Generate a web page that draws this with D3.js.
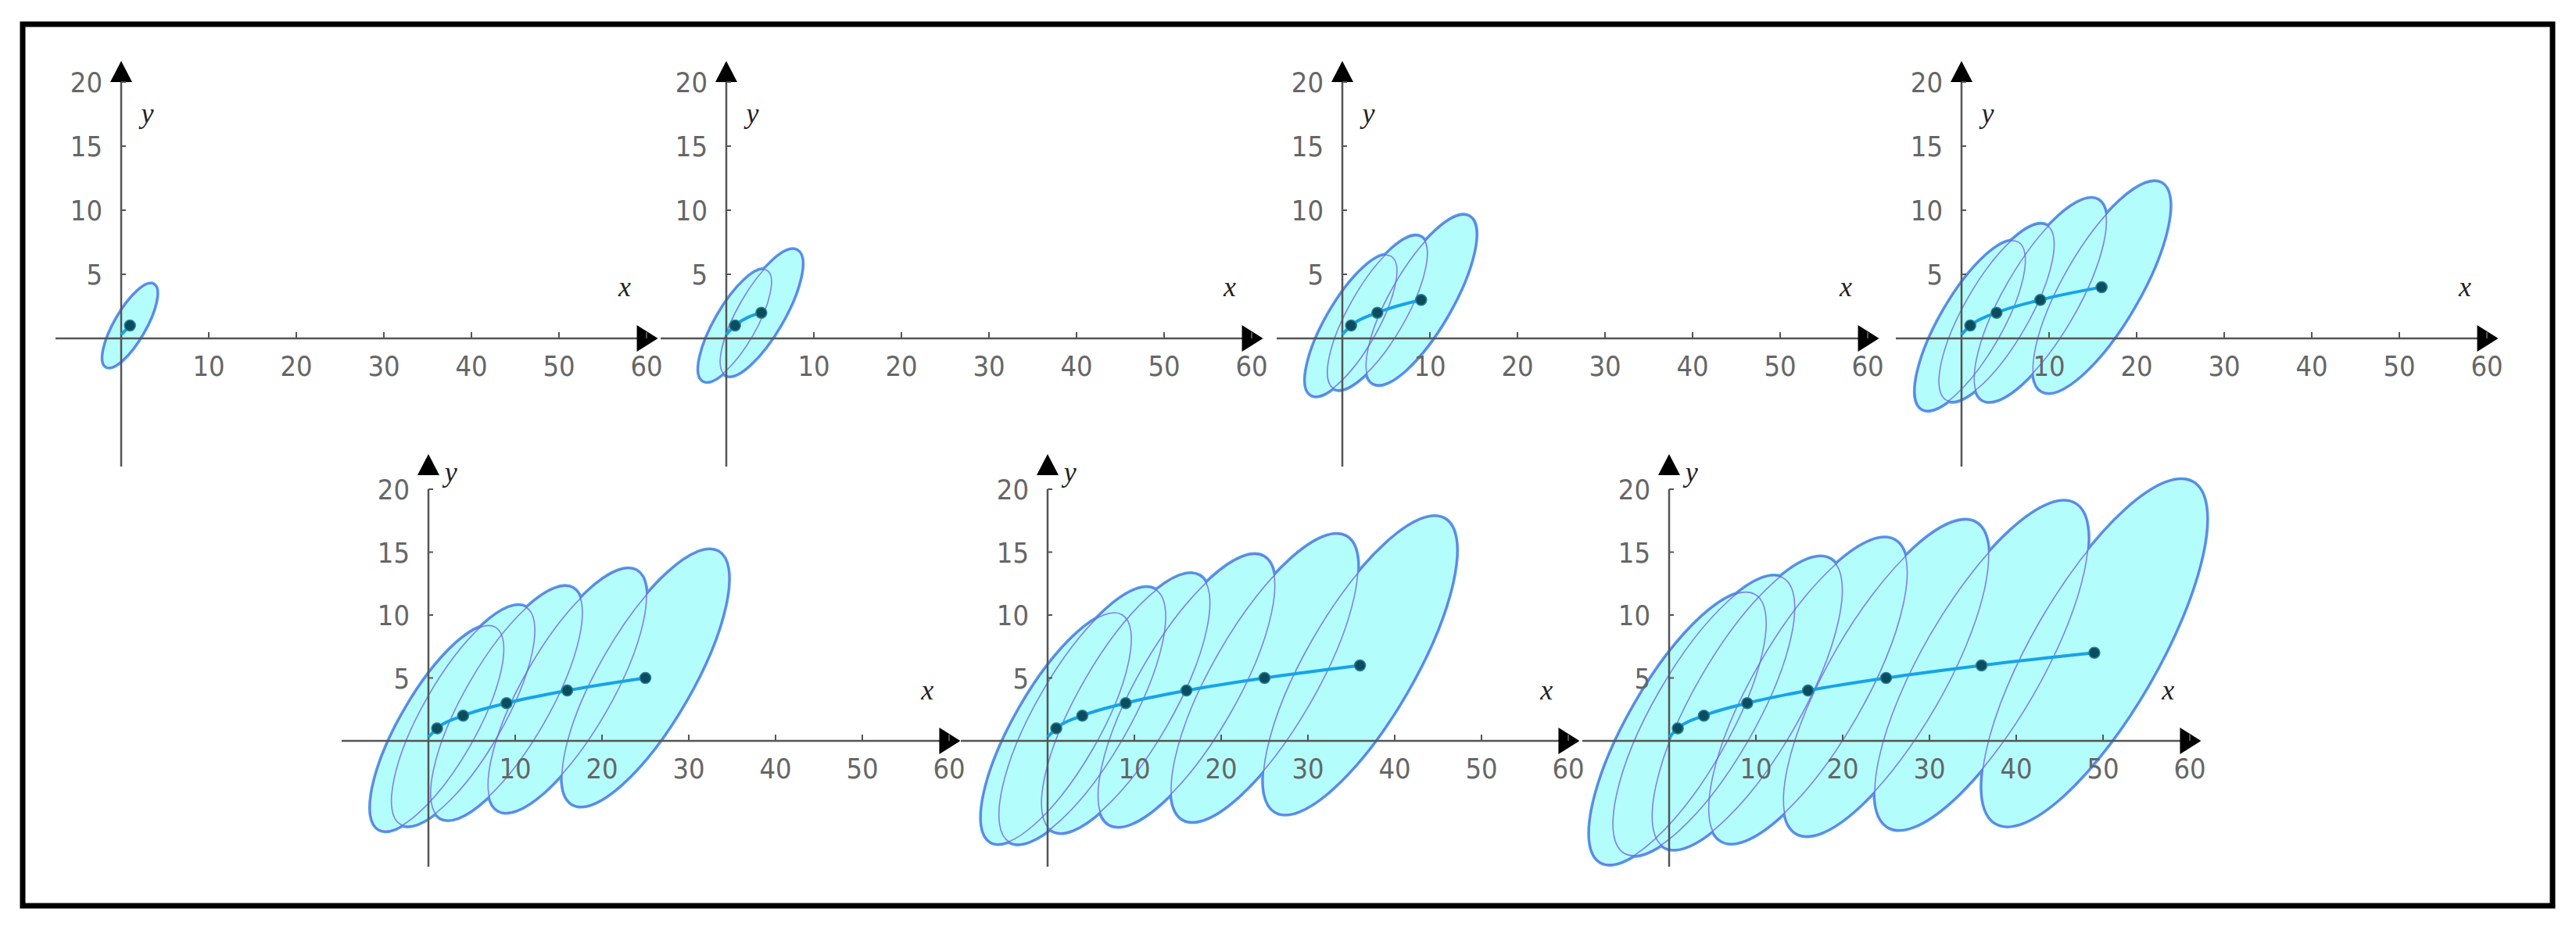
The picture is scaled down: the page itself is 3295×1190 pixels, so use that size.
<!DOCTYPE html>
<html>
<head>
<meta charset="utf-8">
<script src="https://cdn.jsdelivr.net/npm/d3@7"></script>
<style>
  body { margin: 0; background: #fff; }
  .tick-label { font-family: "DejaVu Sans", sans-serif; font-stretch: condensed; font-size: 36px; fill: #666; }
  .axis-name { font-family: "Liberation Serif", "DejaVu Serif", serif; font-style: italic; font-size: 36px; fill: #222; }
</style>
</head>
<body>
<div id="chart"></div>
<script>
// Points (n^2, n) shown in each panel
const pointX = [1, 4, 9, 16, 25, 36, 49];
const pointY = [1, 2, 3, 4, 5, 6, 7];
// Half vertical extent (y units) of the ellipse around each point, per panel
const spread = [
  [3.2],
  [4.3, 4.85],
  [5.4, 5.9, 6.5],
  [6.5, 6.8, 7.8, 8.1],
  [8.0, 8.6, 9.1, 9.5, 10.0],
  [9.0, 10.0, 10.1, 10.6, 11.2, 11.6],
  [10.6, 10.9, 11.4, 11.9, 12.3, 12.8, 13.5]
];
const xTicks = [10, 20, 30, 40, 50, 60];
const yTicks = [5, 10, 15, 20];

// Panel layout: origin in page pixels
const panels = [
  { ox: 155, oy: 433, row: 0 }, { ox: 929, oy: 433, row: 0 },
  { ox: 1717, oy: 433, row: 0 }, { ox: 2509, oy: 433, row: 0 },
  { ox: 548, oy: 948, row: 1 }, { ox: 1340, oy: 948, row: 1 },
  { ox: 2135, oy: 948, row: 1 }
];

const W = 3295, H = 1190;
const svg = d3.select("#chart").append("svg")
  .attr("width", W).attr("height", H);

svg.append("rect")
  .attr("x", 29).attr("y", 31).attr("width", 3236).attr("height", 1128)
  .attr("fill", "none").attr("stroke", "#000").attr("stroke-width", 7);

const ANGLE = 60;      // tilt of ellipses on screen
const RATIO = 0.32;    // minor / major

panels.forEach((p, k) => {
  const xs = p.row === 0 ? 11.2 : 11.1;
  const ys = p.row === 0 ? 16.4 : 16.1;
  const xMin = p.row === 0 ? -7.5 : -10;
  const x = d3.scaleLinear().domain([0, 60]).range([p.ox, p.ox + 60 * xs]);
  const y = d3.scaleLinear().domain([0, 20]).range([p.oy, p.oy - 20 * ys]);
  const g = svg.append("g");

  const ell = d3.range(k + 1).map(i => {
    const h = spread[k][i];
    const a = Math.hypot(0.85 * h * xs, h * ys);
    return { cx: x(pointX[i]), cy: y(pointY[i]), rx: a, ry: a * RATIO };
  });

  const drawEll = (sel) => sel.selectAll("ellipse").data(ell).join("ellipse")
    .attr("cx", d => d.cx).attr("cy", d => d.cy)
    .attr("rx", d => d.rx).attr("ry", d => d.ry)
    .attr("transform", d => `rotate(${-ANGLE} ${d.cx} ${d.cy})`);

  drawEll(g.append("g")).attr("fill", "#b4fdfd").attr("stroke", "#4aa0ea").attr("stroke-width", 5.5);
  drawEll(g.append("g")).attr("fill", "#b4fdfd");
  drawEll(g.append("g")).attr("fill", "none").attr("stroke", "#6f63e0").attr("stroke-width", 1.6).attr("opacity", 0.8);

  // axes
  const ax = g.append("g");
  ax.append("line").attr("x1", x(xMin)).attr("x2", x(60)).attr("y1", y(0)).attr("y2", y(0))
    .attr("stroke", "#555").attr("stroke-width", 2.5);
  ax.append("line").attr("x1", x(0)).attr("x2", x(0)).attr("y1", y(-10)).attr("y2", y(20))
    .attr("stroke", "#555").attr("stroke-width", 2.5);
  ax.append("path")
    .attr("d", `M${x(61.3)},${y(0)} L${x(61.3) - 27},${y(0) - 17} L${x(61.3) - 27},${y(0) + 17} Z`)
    .attr("fill", "#000");
  const yTipTop = p.row === 0 ? y(20) - 27 : y(20) - 45;
  ax.append("path")
    .attr("d", `M${x(0)},${yTipTop} L${x(0) - 14},${yTipTop + 27} L${x(0) + 14},${yTipTop + 27} Z`)
    .attr("fill", "#000");

  ax.selectAll(".xt").data(xTicks).join("line")
    .attr("x1", d => x(d)).attr("x2", d => x(d)).attr("y1", y(0)).attr("y2", y(0) - 8)
    .attr("stroke", "#555").attr("stroke-width", 2);
  ax.selectAll(".yt").data(yTicks).join("line")
    .attr("x1", x(0)).attr("x2", x(0) + 6).attr("y1", d => y(d)).attr("y2", d => y(d))
    .attr("stroke", "#555").attr("stroke-width", 2);

  ax.selectAll(".xl").data(xTicks).join("text").attr("class", "tick-label")
    .attr("x", d => x(d)).attr("y", y(0) + 48).attr("text-anchor", "middle").text(d => d);
  ax.selectAll(".yl").data(yTicks).join("text").attr("class", "tick-label")
    .attr("x", x(0) - 24).attr("y", d => y(d) + 13).attr("text-anchor", "end").text(d => d);

  ax.append("text").attr("class", "axis-name")
    .attr("x", x(57.5)).attr("y", y(3.3)).attr("text-anchor", "middle").text("x");
  if (p.row === 0) {
    ax.append("text").attr("class", "axis-name").attr("x", x(3)).attr("y", y(16.8))
      .attr("text-anchor", "middle").text("y");
  } else {
    ax.append("text").attr("class", "axis-name").attr("x", x(2.6)).attr("y", y(20.6))
      .attr("text-anchor", "middle").text("y");
  }

  // curve through the points
  const pts = [[0, 0.3]].concat(d3.range(k + 1).map(i => [pointX[i], pointY[i]]));
  g.append("path")
    .attr("d", d3.line().x(d => x(d[0])).y(d => y(d[1])).curve(d3.curveMonotoneX)(pts))
    .attr("fill", "none").attr("stroke", "#17a3e8").attr("stroke-width", 4);
  g.selectAll(".pt").data(d3.range(k + 1)).join("circle")
    .attr("cx", i => x(pointX[i])).attr("cy", i => y(pointY[i])).attr("r", 7)
    .attr("fill", "#0b4d5e").attr("stroke", "#2a7f95").attr("stroke-width", 1.5);
});
</script>
</body>
</html>
